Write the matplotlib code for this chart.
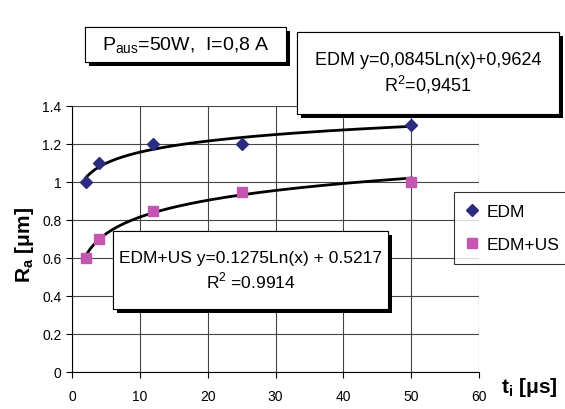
import numpy as np
import matplotlib
matplotlib.use("Agg")
import matplotlib.pyplot as plt
from matplotlib import patheffects
from matplotlib.patches import Rectangle

# donnees
T_I = [2, 4, 12, 25, 50]
RA_EDM = [1.0, 1.1, 1.2, 1.2, 1.3]
RA_EDM_US = [0.6, 0.7, 0.85, 0.95, 1.0]

X_TICKS = [0, 10, 20, 30, 40, 50, 60]
Y_TICKS = [0, 0.2, 0.4, 0.6, 0.8, 1, 1.2, 1.4]
Y_TICK_LABELS = ["0", "0.2", "0.4", "0.6", "0.8", "1", "1.2", "1.4"]

TXT_PARAM = "P$_{\\mathregular{aus}}$=50W,  I=0,8 A"
TXT_EDM = "EDM y=0,0845Ln(x)+0,9624\nR$^{\\mathregular{2}}$=0,9451"
TXT_EDM_US = "EDM+US y=0.1275Ln(x) + 0.5217\nR$^{\\mathregular{2}}$ =0.9914"

W, H = 565, 410
plt.rcParams["font.family"] = ["Liberation Sans", "DejaVu Sans"]


# boite avec ombre, coordonnees en pixels (haut-gauche)
def boite(fig, x0, y0, x1, y1, txt, size) :
    r = Rectangle((x0 / W, 1 - y1 / H), (x1 - x0) / W, (y1 - y0) / H,
                  transform=fig.transFigure, fc="white", ec="black", lw=0.8, zorder=5)
    r.set_path_effects([
        patheffects.withSimplePatchShadow(offset=(3, -3), shadow_rgbFace="black", alpha=1.0),
        patheffects.Normal()])
    fig.add_artist(r)
    fig.text((x0 + x1) / 2 / W, 1 - (y0 + y1) / 2 / H, txt, ha="center", va="center",
             fontsize=size, linespacing=1.3, zorder=6)


def main() :
    fig = plt.figure(figsize=(W / 100, H / 100), dpi=100)
    ax = fig.add_axes([72 / W, 1 - 373 / H, (479 - 72) / W, (373 - 107) / H])

    ax.set_xlim(0, 60)
    ax.set_ylim(0, 1.4)
    ax.set_xticks(X_TICKS)
    ax.set_yticks(Y_TICKS)
    ax.set_yticklabels(Y_TICK_LABELS)
    ax.grid(True, color="#444444", lw=0.8)
    ax.set_axisbelow(True)
    for s in ["top", "right"] :
        ax.spines[s].set_visible(False)
    ax.tick_params(direction="out", length=4, width=0.8, labelsize=10)
    ax.tick_params(axis="x", pad=8)

    # courbes de tendance logarithmiques
    lx = np.log(T_I)
    xs = np.linspace(min(T_I), max(T_I), 300)
    for ys in (RA_EDM, RA_EDM_US) :
        a, b = np.polyfit(lx, ys, 1)
        ax.plot(xs, a * np.log(xs) + b, color="black", lw=2, zorder=3)

    ax.plot(T_I, RA_EDM, "D", color="#2b2b7f", ms=6, ls="none", label="EDM", zorder=4)
    ax.plot(T_I, RA_EDM_US, "s", color="#c455b0", ms=7, ls="none", label="EDM+US", zorder=4)

    fig.text(24 / W, 1 - 245 / H, "R$_{\\mathregular{a}}$ [μm]", rotation=90,
             ha="center", va="center", fontsize=15, fontweight="bold")
    fig.text(558 / W, 1 - 388 / H, "t$_{\\mathregular{i}}$ [μs]", ha="right", va="center",
             fontsize=15, fontweight="bold")

    leg = ax.legend(loc="upper left", bbox_to_anchor=(454 / W, 1 - 193 / H),
                    bbox_transform=fig.transFigure, fontsize=12.5, frameon=True,
                    fancybox=False, edgecolor="black", handlelength=0.7,
                    handletextpad=0.5, borderpad=0.7, labelspacing=1.0,
                    borderaxespad=0)
    leg.get_frame().set_linewidth(0.8)
    leg.set_zorder(5)

    boite(fig, 85, 28, 286, 63, TXT_PARAM, 14)
    boite(fig, 297, 33, 559, 115, TXT_EDM, 13)
    boite(fig, 113, 232, 388, 310, TXT_EDM_US, 12.5)

    fig.savefig("out.png", dpi=100)
    plt.close(fig)


if __name__ == "__main__" :
    main()
